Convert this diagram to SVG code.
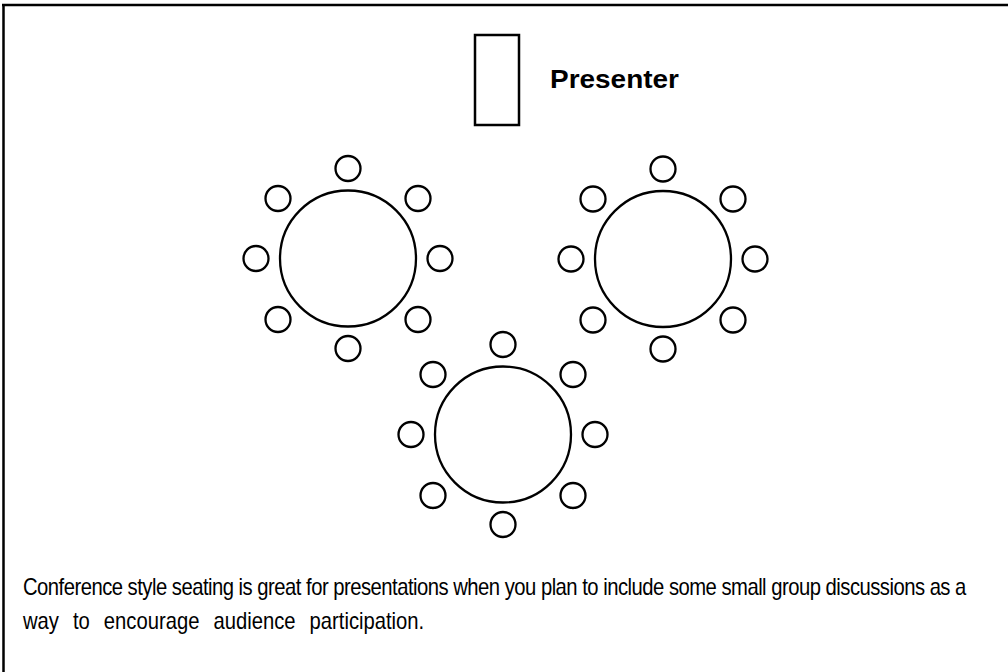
<svg xmlns="http://www.w3.org/2000/svg" width="1008" height="672" viewBox="0 0 1008 672">
<style>
.ln{fill:none;stroke:#000;stroke-width:2.5}
.tb{fill:#fff;stroke:#000;stroke-width:2.3}
.ch{fill:#fff;stroke:#000;stroke-width:2.3}
.lbl{font-family:"Liberation Sans",Arial,sans-serif;font-weight:bold;font-size:25px;fill:#000}
.body{font-family:"Liberation Sans",Arial,sans-serif;font-size:23px;fill:#000}
</style>
<defs>
<g id="seats">
<circle class="ch" cx="0" cy="-90" r="12.5"/>
<circle class="ch" cx="-70" cy="-60" r="12.5"/>
<circle class="ch" cx="70" cy="-60" r="12.5"/>
<circle class="ch" cx="-92" cy="0" r="12.5"/>
<circle class="ch" cx="92" cy="0" r="12.5"/>
<circle class="ch" cx="-70" cy="61" r="12.5"/>
<circle class="ch" cx="70" cy="61" r="12.5"/>
<circle class="ch" cx="0" cy="90" r="12.5"/>
<circle class="tb" cx="0" cy="0" r="68"/>
</g>
</defs>
<rect width="1008" height="672" fill="#fff"/>
<g id="border">
<path class="ln" d="M2 5 H1008 M3.5 4 V672"/>
</g>
<g id="presenter">
<rect class="ln" x="475" y="35" width="44" height="90"/>
<text class="lbl" x="550" y="88" textLength="129" lengthAdjust="spacingAndGlyphs">Presenter</text>
</g>
<g id="table-left">
<use href="#seats" x="348" y="258.5"/>
</g>
<g id="table-right">
<use href="#seats" x="663" y="259"/>
</g>
<g id="table-bottom">
<use href="#seats" x="503" y="434.5"/>
</g>
<g id="connectors"/>
<g id="caption" transform="translate(23,0) scale(0.88,1)">
<text class="body" x="0" y="595" textLength="1072" lengthAdjust="spacing">Conference style seating is great for presentations when you plan to include some small group discussions as a</text>
<text class="body" x="0" y="629" word-spacing="9.5">way to encourage audience participation.</text>
</g>
</svg>
